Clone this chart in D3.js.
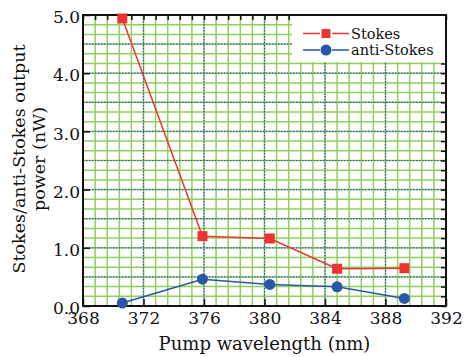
<!DOCTYPE html>
<html>
<head>
<meta charset="utf-8">
<script src="https://cdn.jsdelivr.net/npm/d3@7"></script>
<style>
  body { margin: 0; background: #fff; }
</style>
</head>
<body>
<div id="chart"></div>
<script>
// values
const wavelengths = [370.6, 375.9, 380.35, 384.8, 389.25];
const stokes = [4.94, 1.20, 1.16, 0.64, 0.65];
const antiStokes = [0.05, 0.46, 0.37, 0.33, 0.13];
const xTicks = [368, 372, 376, 380, 384, 388, 392];
const yTicks = [0, 1, 2, 3, 4, 5];

const width = 465, height = 357;
const margin = { left: 83, right: 19, top: 15, bottom: 51 };
const plotW = width - margin.left - margin.right;
const plotH = height - margin.top - margin.bottom;
const fontFam = '"DejaVu Serif"';

const svg = d3.select('#chart').append('svg')
    .attr('width', width)
    .attr('height', height);

const x = d3.scaleLinear().domain([368, 392]).range([margin.left, margin.left + plotW]);
const y = d3.scaleLinear().domain([0, 5]).range([margin.top + plotH, margin.top]);

// minor grid (green) - every 0.8 nm and every 1/6 nW
const minorX = d3.range(0, 31).map(i => 368 + i * 0.8);
const minorY = d3.range(0, 31).map(i => i / 6);
const grid = svg.append('g');
grid.selectAll('.gx').data(minorX).enter().append('line')
    .attr('x1', d => x(d)).attr('x2', d => x(d))
    .attr('y1', margin.top).attr('y2', margin.top + plotH)
    .attr('stroke', '#8fd05e').attr('stroke-width', 1.5);
grid.selectAll('.gy').data(minorY).enter().append('line')
    .attr('y1', d => y(d)).attr('y2', d => y(d))
    .attr('x1', margin.left).attr('x2', margin.left + plotW)
    .attr('stroke', '#8fd05e').attr('stroke-width', 1.5);

// major grid (blue dotted)
grid.selectAll('.mx').data(xTicks.slice(1, -1)).enter().append('line')
    .attr('x1', d => x(d)).attr('x2', d => x(d))
    .attr('y1', margin.top).attr('y2', margin.top + plotH)
    .attr('stroke', '#2f55b0').attr('stroke-width', 1.2).attr('stroke-dasharray', '1.5,1.5');
grid.selectAll('.my').data(d3.range(1, 10).map(i => i * 0.5)).enter().append('line')
    .attr('y1', d => y(d)).attr('y2', d => y(d))
    .attr('x1', margin.left).attr('x2', margin.left + plotW)
    .attr('stroke', '#2f55b0').attr('stroke-width', 1.2).attr('stroke-dasharray', '1.5,1.5');

// axes
const bottomAxis = d3.axisBottom(x).tickValues(xTicks).tickSize(-7).tickPadding(6).tickFormat(d3.format('d'));
const leftAxis = d3.axisLeft(y).tickValues(yTicks).tickSize(-7).tickPadding(3).tickFormat(d3.format('.1f'));
const topAxis = d3.axisTop(x).tickValues(minorX).tickSize(-5).tickFormat('');
const rightAxis = d3.axisRight(y).tickValues(minorY).tickSize(-5).tickFormat('');

function styleAxis(g) {
    g.attr('font-family', null);
    g.select('.domain').remove();
    g.selectAll('line').attr('stroke', '#111').attr('stroke-width', 1.5);
    g.selectAll('text').attr('font-size', 17).attr('fill', '#111');
}
svg.append('g').attr('transform', `translate(0,${margin.top + plotH})`).call(bottomAxis).call(styleAxis);
svg.append('g').attr('transform', `translate(${margin.left},0)`).call(leftAxis).call(styleAxis)
    .selectAll('text').attr('dy', '0.45em');
svg.append('g').attr('transform', `translate(0,${margin.top})`).call(topAxis).call(styleAxis);
svg.append('g').attr('transform', `translate(${margin.left + plotW},0)`).call(rightAxis).call(styleAxis);

// frame
svg.append('rect')
    .attr('x', margin.left).attr('y', margin.top)
    .attr('width', plotW).attr('height', plotH)
    .attr('fill', 'none').attr('stroke', '#111').attr('stroke-width', 2);

// series
const red = '#ee3333', blue = '#2a56a8';
const line = vals => d3.line().x((d, i) => x(wavelengths[i])).y(d => y(d))(vals);

svg.append('path').attr('d', line(stokes))
    .attr('fill', 'none').attr('stroke', red).attr('stroke-width', 1.5);
svg.append('path').attr('d', line(antiStokes))
    .attr('fill', 'none').attr('stroke', blue).attr('stroke-width', 1.5);

svg.selectAll('.sq').data(stokes).enter().append('rect')
    .attr('x', (d, i) => x(wavelengths[i]) - 5)
    .attr('y', d => y(d) - 5)
    .attr('width', 10).attr('height', 10)
    .attr('fill', red);
svg.selectAll('.dot').data(antiStokes).enter().append('circle')
    .attr('cx', (d, i) => x(wavelengths[i]))
    .attr('cy', d => y(d))
    .attr('r', 5.5)
    .attr('fill', blue);

// legend
const lg = svg.append('g');
lg.append('rect').attr('x', 292).attr('y', 16).attr('width', 153).attr('height', 46).attr('fill', '#fff');
const entries = [
    { name: 'Stokes', color: red, shape: 'square', y: 33.5 },
    { name: 'anti-Stokes', color: blue, shape: 'circle', y: 50 }
];
entries.forEach(e => {
    lg.append('line').attr('x1', 303).attr('x2', 349).attr('y1', e.y).attr('y2', e.y)
        .attr('stroke', e.color).attr('stroke-width', 1.5);
    lg.append('rect').attr('x', 320).attr('y', e.y - 6).attr('width', 12).attr('height', 12)
        .attr('fill', '#fff');
    if (e.shape === 'square') {
        lg.append('rect').attr('x', 321.5).attr('y', e.y - 4.5).attr('width', 9).attr('height', 9).attr('fill', e.color);
    } else {
        lg.append('circle').attr('cx', 326).attr('cy', e.y).attr('r', 5.5).attr('fill', e.color);
    }
    lg.append('text').attr('x', 351).attr('y', e.y + 5).attr('font-size', 14.5).text(e.name);
});

// axis titles
svg.append('text')
    .attr('x', margin.left + plotW / 2).attr('y', 350)
    .attr('text-anchor', 'middle').attr('font-size', 18)
    .text('Pump wavelength (nm)');

const yl = svg.append('text')
    .attr('transform', `translate(25,159) rotate(-90)`)
    .attr('text-anchor', 'middle').attr('font-size', 17.5);
yl.append('tspan').attr('x', 0).attr('dy', 0).text('Stokes/anti-Stokes output');
yl.append('tspan').attr('x', 0).attr('dy', 20).text('power (nW)');

svg.selectAll('text').style('font-family', fontFam).style('fill', '#111');
</script>
</body>
</html>
